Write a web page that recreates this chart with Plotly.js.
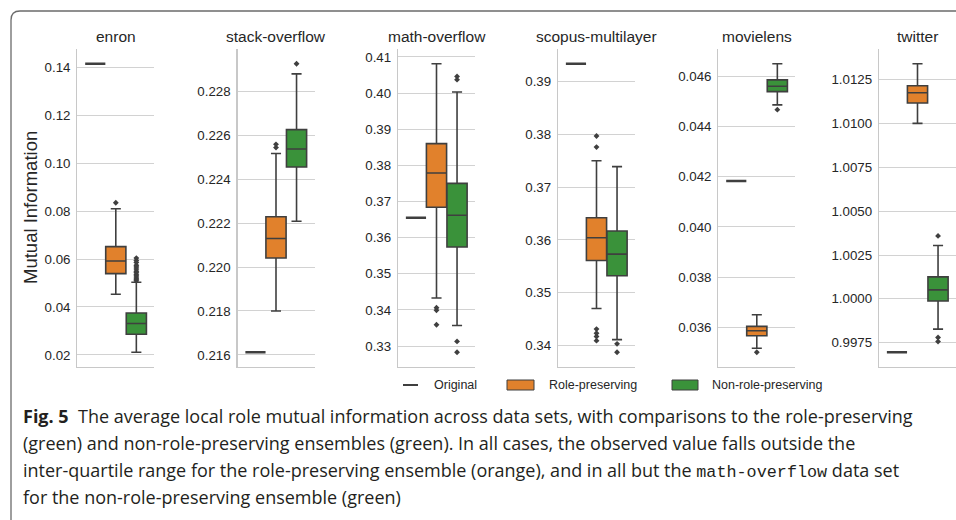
<!DOCTYPE html>
<html>
<head>
<meta charset="utf-8">
<script src="https://cdn.plot.ly/plotly-3.0.1.min.js"></script>
<style>html,body{margin:0;padding:0;background:#fff;}#chart{width:956px;height:520px;}</style>
</head>
<body>
<div id="chart"></div>
<script>
// ---- data ----
const datasets = ['enron', 'stack-overflow', 'math-overflow', 'scopus-multilayer', 'movielens', 'twitter'];
const seriesNames = ['Original', 'Role-preserving', 'Non-role-preserving'];

const originalValues = [0.1415, 0.21612, 0.3655, 0.3934, 0.04183, 0.99695];

const rpLowerFence = [0.0453, 0.2180, 0.3433, 0.3470, 0.035166, 1.01001];
const rpQ1         = [0.0539, 0.22041, 0.3684, 0.3561, 0.035667, 1.01117];
const rpMedian     = [0.0592, 0.22130, 0.3779, 0.3604, 0.035865, 1.01176];
const rpQ3         = [0.0652, 0.22229, 0.3860, 0.3642, 0.036040, 1.01216];
const rpUpperFence = [0.0810, 0.22517, 0.4081, 0.3750, 0.036500, 1.013415];
const rpOutliers = [
  [0.0835],
  [0.22544, 0.22559],
  [0.3406, 0.3399, 0.3359],
  [0.3797, 0.3776, 0.3431, 0.3423, 0.3417, 0.3409],
  [0.035007],
  []
];

const nrpLowerFence = [0.0211, 0.22209, 0.3357, 0.3411, 0.04486, 0.99827];
const nrpQ1         = [0.0286, 0.22456, 0.3574, 0.3532, 0.04539, 0.99988];
const nrpMedian     = [0.0331, 0.22538, 0.3662, 0.3573, 0.04560, 1.00051];
const nrpQ3         = [0.0375, 0.22626, 0.3750, 0.3617, 0.045855, 1.00125];
const nrpUpperFence = [0.0503, 0.22880, 0.4003, 0.3739, 0.04650, 1.00304];
const nrpOutliers = [
  [0.0509, 0.0516, 0.0521, 0.0529, 0.0534, 0.0543, 0.0549, 0.0558, 0.0567, 0.0574, 0.0586, 0.0594, 0.0604],
  [0.22926],
  [0.4046, 0.4037, 0.3313, 0.3283],
  [0.3403, 0.3387],
  [0.04467],
  [1.00359, 0.99779, 0.99756]
];

const tickStart  = [0.02, 0.216, 0.33, 0.34, 0.036, 0.9975];
const tickStep   = [0.02, 0.002, 0.01, 0.01, 0.002, 0.0025];
const tickFormat = ['.2f', '.3f', '.2f', '.2f', '.3f', '.4f'];

const yAxisLabel = 'Mutual Information';
const captionLines = [
  '<b>Fig. 5</b>\u00a0 The average local role mutual information across data sets, with comparisons to the role-preserving',
  '(green) and non-role-preserving ensembles (green). In all cases, the observed value falls outside the',
  'inter-quartile range for the role-preserving ensemble (orange), and in all but the <span style="font-family:\'Liberation Mono\',\'DejaVu Sans Mono\',monospace;font-size:16.8px">math-overflow</span> data set',
  'for the non-role-preserving ensemble (green)'
];

// ---- style / layout constants ----
const W = 956, H = 520;
const ORANGE = '#e1812c', GREEN = '#3a923a', EDGE = '#3f3f3f';
const GRID = '#d2d2d2', SPINE = '#c8c8c8', TXT = '#262626';
const FONT = 'Liberation Sans, Arial, sans-serif';
const CAPFONT = 'Open Sans, Noto Sans, sans-serif';
const panelLeft = [77.3, 237.5, 398, 558, 718.3, 879];
const panelWidth = 77;
const plotTop = 49.3, plotBottom = 366.7;
const offsets = [-0.2667, 0, 0.2667];
const boxW = 0.262;

const px = x => x / W;
const py = y => 1 - y / H;

const traces = [];
const layout = {
  width: W, height: H,
  margin: {l: 0, r: 0, t: 0, b: 0},
  paper_bgcolor: '#fff', plot_bgcolor: '#fff',
  showlegend: false,
  font: {family: FONT, color: TXT},
  annotations: [], shapes: []
};

datasets.forEach((name, i) => {
  const sfx = i === 0 ? '' : String(i + 1);
  const xa = 'x' + sfx, ya = 'y' + sfx;

  // original: zero-spread observation drawn as a line
  traces.push({
    type: 'scatter', mode: 'lines', xaxis: xa, yaxis: ya,
    x: [offsets[0] - boxW / 2, offsets[0] + boxW / 2],
    y: [originalValues[i], originalValues[i]],
    line: {color: EDGE, width: 2.4}, name: seriesNames[0], hoverinfo: 'y'
  });
  const boxes = [
    {q1: rpQ1, med: rpMedian, q3: rpQ3, lo: rpLowerFence, hi: rpUpperFence, out: rpOutliers, col: ORANGE, off: offsets[1], nm: seriesNames[1]},
    {q1: nrpQ1, med: nrpMedian, q3: nrpQ3, lo: nrpLowerFence, hi: nrpUpperFence, out: nrpOutliers, col: GREEN, off: offsets[2], nm: seriesNames[2]}
  ];
  boxes.forEach(b => {
    traces.push({
      type: 'box', orientation: 'v', xaxis: xa, yaxis: ya,
      x: [b.off], q1: [b.q1[i]], median: [b.med[i]], q3: [b.q3[i]],
      lowerfence: [b.lo[i]], upperfence: [b.hi[i]],
      width: boxW, whiskerwidth: 0.5, boxpoints: false,
      fillcolor: b.col, line: {color: EDGE, width: 1.6}, name: b.nm
    });
    if (b.out[i].length) {
      traces.push({
        type: 'scatter', mode: 'markers', xaxis: xa, yaxis: ya,
        x: b.out[i].map(() => b.off), y: b.out[i],
        marker: {symbol: 'diamond', size: 4.5, color: EDGE}, name: b.nm
      });
    }
  });

  const all = [originalValues[i], rpLowerFence[i], rpUpperFence[i], nrpLowerFence[i], nrpUpperFence[i]]
    .concat(rpOutliers[i], nrpOutliers[i]);
  const mn = Math.min(...all), mx = Math.max(...all), pad = (mx - mn) * 0.05;

  layout['xaxis' + sfx] = {
    domain: [px(panelLeft[i]), px(panelLeft[i] + panelWidth)], anchor: ya,
    range: [-0.5, 0.5], showgrid: false, zeroline: false, showticklabels: false, ticks: '',
    showline: true, linecolor: SPINE, linewidth: 1.2, fixedrange: true
  };
  layout['yaxis' + sfx] = {
    domain: [py(plotBottom), py(plotTop)], anchor: xa,
    range: [mn - pad, mx + pad], tick0: tickStart[i], dtick: tickStep[i], tickformat: tickFormat[i],
    showgrid: true, gridcolor: GRID, gridwidth: 1, zeroline: false, ticks: '',
    showline: true, linecolor: SPINE, linewidth: 1.2, ticklabelstandoff: 3,
    tickfont: {family: FONT, size: 13.3, color: TXT}, fixedrange: true
  };
  layout.annotations.push({
    xref: 'paper', yref: 'paper', x: px(panelLeft[i] + panelWidth / 2), y: py(37),
    xanchor: 'center', yanchor: 'middle', showarrow: false, text: name,
    font: {family: FONT, size: 15.5, color: TXT}
  });
});

// y-axis label
layout.annotations.push({
  xref: 'paper', yref: 'paper', x: px(30), y: py(208), textangle: -90,
  xanchor: 'center', yanchor: 'middle', showarrow: false, text: yAxisLabel,
  font: {family: FONT, size: 18.5, color: TXT}
});

// legend (drawn by hand to match the reference)
const legY = 385;
layout.shapes.push({type: 'line', xref: 'paper', yref: 'paper', x0: px(403), x1: px(418), y0: py(legY), y1: py(legY), line: {color: EDGE, width: 2}});
layout.shapes.push({type: 'rect', xref: 'paper', yref: 'paper', x0: px(507), x1: px(534), y0: py(legY - 5), y1: py(legY + 5), fillcolor: ORANGE, line: {color: EDGE, width: 1}});
layout.shapes.push({type: 'rect', xref: 'paper', yref: 'paper', x0: px(672), x1: px(698), y0: py(legY - 5), y1: py(legY + 5), fillcolor: GREEN, line: {color: EDGE, width: 1}});
[[432, seriesNames[0]], [547, seriesNames[1]], [710, seriesNames[2]]].forEach(([x, t]) => {
  layout.annotations.push({
    xref: 'paper', yref: 'paper', x: px(x), y: py(legY), xanchor: 'left', yanchor: 'middle',
    showarrow: false, text: t, font: {family: FONT, size: 12.5, color: TXT}
  });
});

// caption
const capY = [416, 443, 470, 497];
captionLines.forEach((t, k) => {
  layout.annotations.push({
    xref: 'paper', yref: 'paper', x: px(21), y: py(capY[k]), xanchor: 'left', yanchor: 'middle',
    showarrow: false, text: t, align: 'left',
    font: {family: CAPFONT, size: 18, color: '#231f20'}
  });
});

// figure frame with rounded top-left corner
layout.shapes.push({
  type: 'path', xref: 'paper', yref: 'paper',
  path: `M ${px(11)},${py(521)} L ${px(11)},${py(20)} Q ${px(11)},${py(11)} ${px(20)},${py(11)} L ${px(957)},${py(11)}`,
  line: {color: '#6b6b6b', width: 1.3}
});

Plotly.newPlot('chart', traces, layout, {displayModeBar: false, staticPlot: true});
</script>
</body>
</html>
